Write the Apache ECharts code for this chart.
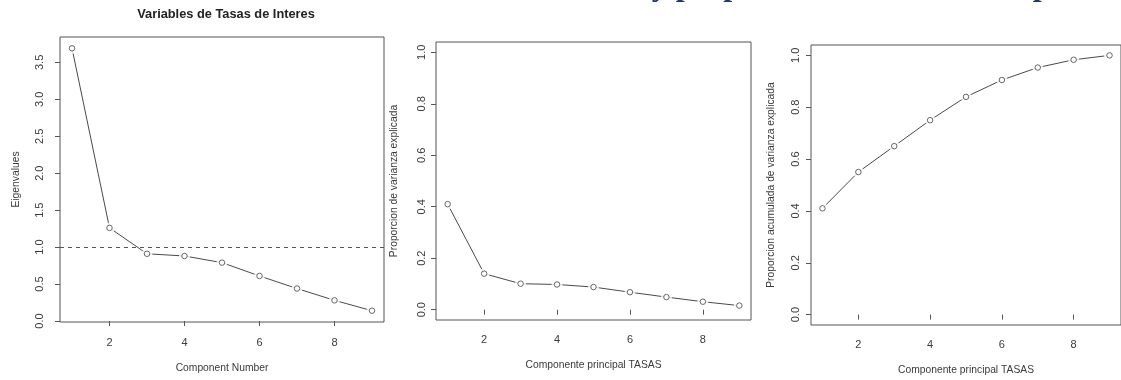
<!DOCTYPE html>
<html>
<head>
<meta charset="utf-8">
<style>
  html, body { margin: 0; padding: 0; background: #fff; }
  #chart { width: 1121px; height: 380px; }
</style>
<script src="https://cdn.jsdelivr.net/npm/echarts@6/dist/echarts.min.js"></script>
</head>
<body>
<div id="chart"></div>
<script>
// Principal components of the interest-rate variables
const components = [1, 2, 3, 4, 5, 6, 7, 8, 9];
const eigenvalues = [3.69, 1.26, 0.91, 0.88, 0.79, 0.61, 0.44, 0.28, 0.14];
const proportion = [0.41, 0.14, 0.101, 0.098, 0.088, 0.068, 0.049, 0.031, 0.016];
const cumulative = [0.41, 0.55, 0.65, 0.75, 0.84, 0.905, 0.953, 0.983, 1.0];

const xTicks = [2, 4, 6, 8];
const eigenTicks = [0, 0.5, 1, 1.5, 2, 2.5, 3, 3.5];
const propTicks = [0, 0.2, 0.4, 0.6, 0.8, 1];

const mainTitle = 'Variables de Tasas de Interes';
const slideTitle = 'Sedimentación, varianza individual y proporción de varianza explicada';
const kaiserLevel = 1;

const INK = '#555';
const TEXT = '#3a3a3a';
const FONT = '"Liberation Sans", Arial, sans-serif';

const chart = echarts.init(document.getElementById('chart'), null, { renderer: 'canvas' });

function pairs(vals) { return components.map((c, i) => [c, vals[i]]); }

function xAxisDef(gridIndex, name, gap, margin) {
  return {
    type: 'value', gridIndex, min: 0.68, max: 9.32,
    name, nameLocation: 'middle', nameGap: gap,
    nameTextStyle: { color: TEXT, fontFamily: FONT, fontSize: 10.3 },
    axisLine: { show: false },
    splitLine: { show: false },
    axisTick: { show: true, length: 5, customValues: xTicks, lineStyle: { color: INK } },
    axisLabel: { customValues: xTicks, margin, color: TEXT, fontFamily: FONT, fontSize: 11,
                 formatter: v => String(v) }
  };
}

function yAxisDef(gridIndex, name, gap, min, max, ticks, margin, fmt) {
  return {
    type: 'value', gridIndex, min, max,
    name, nameLocation: 'middle', nameGap: gap,
    nameTextStyle: { color: TEXT, fontFamily: FONT, fontSize: 10.3 },
    axisLine: { show: false },
    splitLine: { show: false },
    axisTick: { show: true, length: 5, customValues: ticks, lineStyle: { color: INK } },
    axisLabel: { customValues: ticks, rotate: 90, margin, color: TEXT, fontFamily: FONT, fontSize: 11,
                 formatter: fmt }
  };
}

function panelSeries(idx, vals) {
  const data = pairs(vals);
  return [
    { type: 'line', xAxisIndex: idx, yAxisIndex: idx, data, z: 2, silent: true,
      symbol: 'none', lineStyle: { color: '#4a4a4a', width: 1 } },
    // white halo leaves the small gap between segment ends and each point
    { type: 'scatter', xAxisIndex: idx, yAxisIndex: idx, data, z: 3, silent: true,
      symbol: 'circle', symbolSize: 11, itemStyle: { color: '#fff', borderWidth: 0 } },
    { type: 'scatter', xAxisIndex: idx, yAxisIndex: idx, data, z: 4, silent: true,
      symbol: 'circle', symbolSize: 5.5,
      itemStyle: { color: '#fff', borderColor: '#444', borderWidth: 1 } }
  ];
}

const f1 = v => v.toFixed(1);

const option = {
  animation: false,
  backgroundColor: '#fff',
  title: {
    text: mainTitle, left: 221, top: 3, textAlign: 'center',
    textStyle: { fontFamily: FONT, fontWeight: 'bold', fontSize: 12.8, color: '#222' }
  },
  graphic: [{
    type: 'text', x: 161, y: -13.5, z: 100, silent: true,
    style: { text: slideTitle, fill: '#1F3864', align: 'left', verticalAlign: 'middle',
             font: 'bold 32px "Liberation Serif", "Times New Roman", serif' }
  }],
  grid: [
    { left: 60, top: 37, width: 324, height: 285, show: true, borderColor: INK, borderWidth: 1, backgroundColor: 'transparent' },
    { left: 436, top: 42, width: 315, height: 278, show: true, borderColor: INK, borderWidth: 1, backgroundColor: 'transparent' },
    { left: 811, top: 45, width: 315, height: 280, show: true, borderColor: INK, borderWidth: 1, backgroundColor: 'transparent' }
  ],
  xAxis: [
    xAxisDef(0, 'Component Number', 41, 15),
    xAxisDef(1, 'Componente principal TASAS', 40, 14),
    xAxisDef(2, 'Componente principal TASAS', 40, 14)
  ],
  yAxis: [
    yAxisDef(0, 'Eigenvalues', 39, -0.013, 3.843, eigenTicks, 15, f1),
    yAxisDef(1, 'Proporcion de varianza explicada', 37, -0.04, 1.04, propTicks, 9, f1),
    yAxisDef(2, 'Proporcion acumulada de varianza explicada', 35, -0.04, 1.04, propTicks, 10, f1)
  ],
  series: [
    ...panelSeries(0, eigenvalues),
    ...panelSeries(1, proportion),
    ...panelSeries(2, cumulative),
    { type: 'line', xAxisIndex: 0, yAxisIndex: 0, data: [], z: 5, silent: true,
      markLine: { silent: true, symbol: 'none', label: { show: false },
                  lineStyle: { color: INK, width: 1, type: [4, 4] },
                  data: [{ yAxis: kaiserLevel }] } }
  ]
};

chart.setOption(option);
</script>
</body>
</html>
